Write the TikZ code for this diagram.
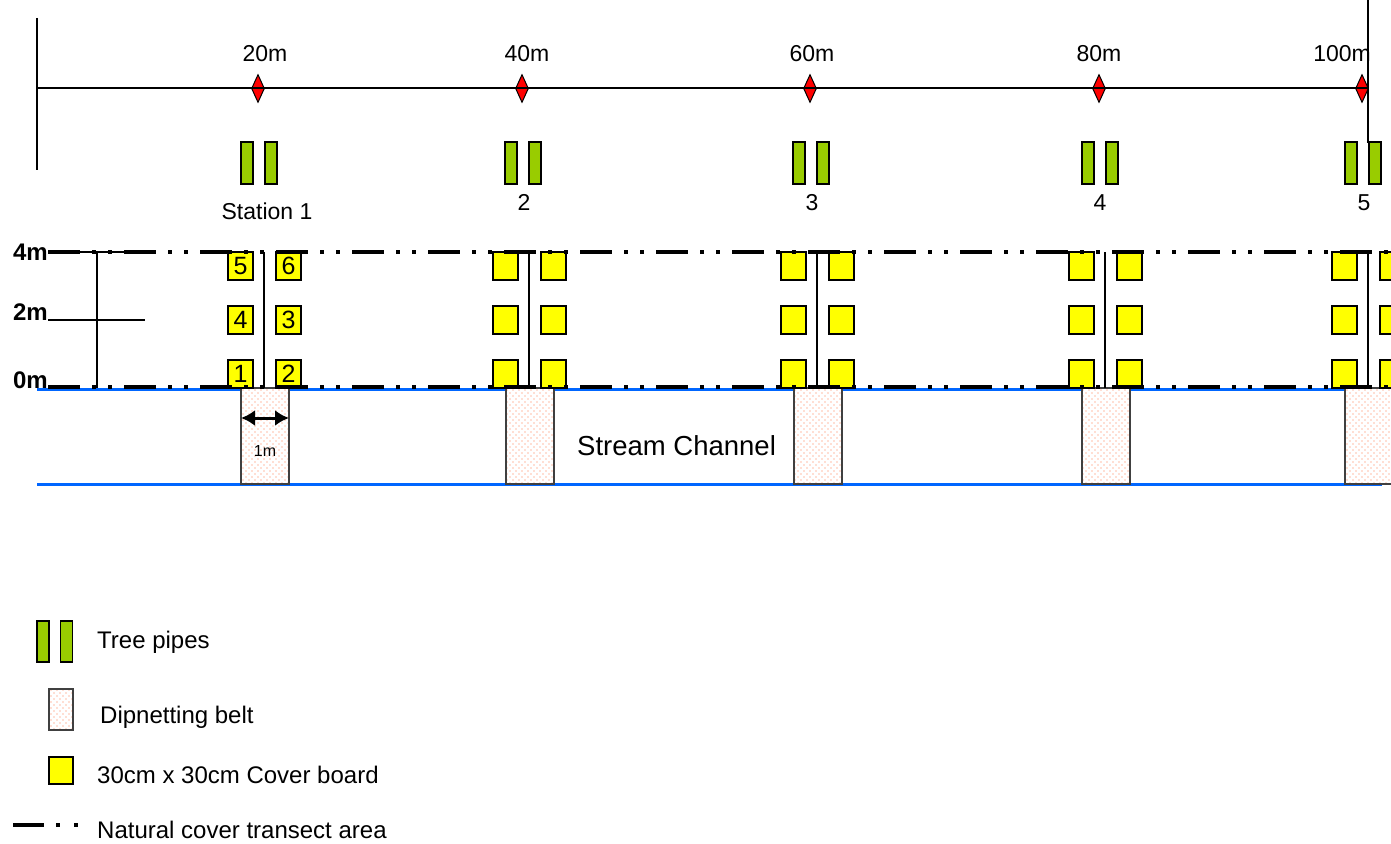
\documentclass[tikz,border=0pt]{standalone}
\usepackage{fontspec}
\setmainfont{Liberation Sans}
\usetikzlibrary{arrows.meta,patterns,shapes.geometric}
\definecolor{pipegreen}{RGB}{153,204,0}
\definecolor{boardyellow}{RGB}{255,255,0}
\definecolor{streamblue}{RGB}{0,102,255}
\definecolor{dotred}{RGB}{255,120,70}
\pgfdeclarepatternformonly{beltdots}{\pgfqpoint{-1pt}{-1pt}}{\pgfqpoint{5pt}{5pt}}{\pgfqpoint{6pt}{6pt}}{\pgfpathcircle{\pgfqpoint{0pt}{0pt}}{0.65pt}\pgfpathcircle{\pgfqpoint{3pt}{3pt}}{0.65pt}\pgfusepath{fill}}
\begin{document}
\begin{tikzpicture}[x=1pt,y=-1pt,
  lbl/.style={font=\fontsize{23}{27}\selectfont, anchor=base, inner sep=0},
  leg/.style={font=\fontsize{24}{28}\selectfont, anchor=base west, inner sep=0},
  scale lbl/.style={font=\fontsize{24}{28}\selectfont\bfseries, anchor=base east, inner sep=0},
  pipe/.style={rectangle, draw=black, line width=1.2pt, fill=pipegreen, minimum width=12pt, minimum height=42pt, inner sep=0},
  board/.style={rectangle, draw=black, line width=1.2pt, fill=boardyellow, minimum width=25pt, minimum height=28pt, inner sep=0, font=\fontsize{25}{25}\selectfont},
  belt/.style={rectangle, draw=black!75, line width=1.6pt, preaction={fill=white}, pattern=beltdots, pattern color=dotred, minimum width=48pt, minimum height=96pt, inner sep=0},
  marker/.style={diamond, draw=black, line width=1pt, fill=red, minimum width=13pt, minimum height=28pt, inner sep=0},
  thinline/.style={line width=1.2pt},
  transect/.style={line width=3.5pt, line cap=butt, dash pattern=on 32pt off 12pt on 4pt off 12pt on 4pt off 12pt},
  stream/.style={draw=streamblue, line width=3pt},
]
\clip (0,0) rectangle (1391,843);
\fill[white] (0,0) rectangle (1391,843);

% ---------- top axis ----------
\coordinate (axL) at (37,88);
\coordinate (axR) at (1368,88);
\coordinate (lvT) at (37,18);
\coordinate (lvB) at (37,170);
\coordinate (rvT) at (1368,0);
\coordinate (rvB) at (1368,143);
\draw[thinline] (lvT) -- (lvB);
\draw[thinline] (rvT) -- (rvB);

\foreach \s/\c/\tx/\top/\bx/\bot/\bb in {1/259/265/20m/267/Station 1/219, 2/523/527/40m/524/2/210, 3/811/812/60m/812/3/210, 4/1100/1099/80m/1100/4/210, 5/1363/1342/100m/1364/5/210}{
  \node[marker] (d\s) at (\c-1,88.5) {};
  \node[lbl] (t\s) at (\tx,62) {\top};
  \node[pipe] (pa\s) at (\c-12,163) {};
  \node[pipe] (pb\s) at (\c+12,163) {};
  \node[lbl] (st\s) at (\bx,\bb) {\bot};
}
\draw[thinline] (axL) -- (axR);

% ---------- stream ----------
\coordinate (sT1) at (37,389);
\coordinate (sT2) at (1391,389);
\coordinate (sB1) at (37,484);
\coordinate (sB2) at (1382,484);
\draw[stream] (sT1) -- (sT2);
\draw[stream] (sB1) -- (sB2);

% ---------- stations ----------
\foreach \s/\v in {1/264, 2/529, 3/817, 4/1105, 5/1368}{
  \node[belt] (belt\s) at (\v+1,436) {};
  \coordinate (vt\s) at (\v,252);
  \coordinate (vb\s) at (\v,388);
  \draw[thinline] (vt\s) -- (vb\s);
}
% station 1 boards with numbers
\node[board] (b1a) at (240.5,266) {5};
\node[board] (b1b) at (288.5,266) {6};
\node[board] (b1c) at (240.5,320) {4};
\node[board] (b1d) at (288.5,320) {3};
\node[board] (b1e) at (240.5,374) {1};
\node[board] (b1f) at (288.5,374) {2};
\foreach \s/\v in {2/529, 3/817, 4/1105, 5/1368}{
  \foreach \r/\y in {a/266, b/320, c/374}{
    \node[board] (bl\s\r) at (\v-23.5,\y) {};
    \node[board] (br\s\r) at (\v+24.5,\y) {};
  }
}

% ---------- scale at left ----------
\coordinate (tl1) at (48,252);
\coordinate (tl2) at (125,252);
\coordinate (ml1) at (48,320);
\coordinate (ml2) at (145,320);
\coordinate (lv1) at (97,252);
\coordinate (lv2) at (97,388);
\draw[thinline] (tl1) -- (tl2);
\draw[thinline] (ml1) -- (ml2);
\draw[thinline] (lv1) -- (lv2);

% transect lines
\coordinate (trT1) at (48,252);
\coordinate (trT2) at (1391,252);
\coordinate (trB1) at (48,387);
\coordinate (trB2) at (1391,387);
\draw[transect] (trT1) -- (trT2);
\draw[transect] (trB1) -- (trB2);

\node[scale lbl] (m4) at (48,260) {4m};
\node[scale lbl] (m2) at (48,320) {2m};
\node[scale lbl] (m0) at (48,388) {0m};

% 1m arrow
\coordinate (ar1) at (241,418);
\coordinate (ar2) at (289,418);
\draw[line width=3pt, {Latex[length=14pt,width=16pt]}-{Latex[length=14pt,width=16pt]}] (ar1) -- (ar2);
\node[font=\fontsize{16}{18}\selectfont, anchor=base, inner sep=0] (onem) at (265,456) {1m};

\node[font=\fontsize{27.5}{30}\selectfont, anchor=base west, inner sep=0] (channel) at (577,455) {Stream Channel};

% ---------- legend ----------
\node[pipe, minimum height=41pt] (lgpa) at (43,641.5) {};
\node[pipe, minimum height=41pt] (lgpb) at (66.5,641.5) {};
\node[leg] (lgt1) at (97,648) {Tree pipes};
\node[belt, minimum width=24pt, minimum height=41pt] (lgbelt) at (61,709.5) {};
\node[leg] (lgt2) at (100,723) {Dipnetting belt};
\node[board, minimum width=24pt, minimum height=27pt] (lgboard) at (61,770.5) {};
\node[leg] (lgt3) at (97,783) {30cm x 30cm Cover board};
\coordinate (lgl1) at (13,825);
\coordinate (lgl2) at (79,825);
\draw[line width=3.5pt, line cap=butt, dash pattern=on 31pt off 12pt on 4pt off 14pt on 4pt off 20pt] (lgl1) -- (lgl2);
\node[leg] (lgt4) at (97,838) {Natural cover transect area};
\end{tikzpicture}
\end{document}
